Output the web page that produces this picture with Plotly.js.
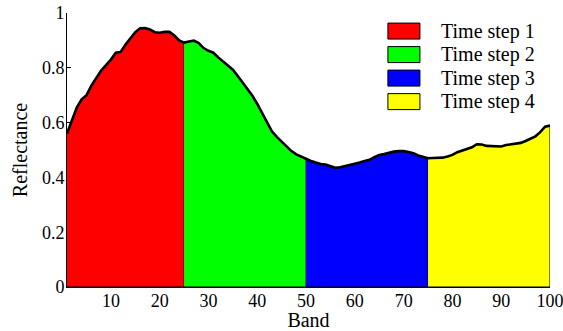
<!DOCTYPE html>
<html>
<head>
<meta charset="utf-8">
<script src="https://cdn.plot.ly/plotly-3.0.1.min.js"></script>
<style>html,body{margin:0;padding:0;background:#fff;}#chart{width:563px;height:331px;}</style>
</head>
<body>
<div id="chart"></div>
<script>
// ---- data ----
var bands = [];
for (var b = 1; b <= 100; b++) bands.push(b);
var reflectance = [
  0.560, 0.610, 0.655, 0.685, 0.700, 0.735, 0.765, 0.790, 0.810, 0.830,
  0.855, 0.858, 0.885, 0.907, 0.930, 0.944, 0.945, 0.940, 0.930, 0.928,
  0.931, 0.931, 0.918, 0.900, 0.892, 0.896, 0.899, 0.890, 0.872, 0.862,
  0.855, 0.838, 0.823, 0.808, 0.793, 0.770, 0.746, 0.722, 0.698, 0.668,
  0.635, 0.600, 0.568, 0.548, 0.530, 0.512, 0.496, 0.484, 0.475, 0.468,
  0.460, 0.454, 0.449, 0.447, 0.440, 0.435, 0.437, 0.441, 0.445, 0.449,
  0.454, 0.460, 0.464, 0.474, 0.482, 0.485, 0.490, 0.494, 0.496, 0.496,
  0.493, 0.488, 0.480, 0.474, 0.470, 0.471, 0.472, 0.472, 0.476, 0.482,
  0.492, 0.498, 0.503, 0.510, 0.521, 0.520, 0.515, 0.514, 0.512, 0.513,
  0.518, 0.521, 0.523, 0.526, 0.533, 0.541, 0.550, 0.565, 0.585, 0.589
];
var stepNames = ["Time step 1", "Time step 2", "Time step 3", "Time step 4"];
var stepColors = ["#ff0000", "#00ff00", "#0000ff", "#ffff00"];
var stepBounds = [1, 25, 50, 75, 100];
var xTicks = [10, 20, 30, 40, 50, 60, 70, 80, 90, 100];
var yTicks = [0, 0.2, 0.4, 0.6, 0.8, 1];
var yTickText = ["0", "0.2", "0.4", "0.6", "0.8", "1"];

// ---- traces ----
var traces = [];
for (var s = 0; s < stepNames.length; s++) {
  var xs = [], ys = [];
  for (var i = 0; i < bands.length; i++) {
    if (bands[i] >= stepBounds[s] && bands[i] <= stepBounds[s + 1]) {
      xs.push(bands[i]); ys.push(reflectance[i]);
    }
  }
  var px = xs.concat([xs[xs.length - 1], xs[0]]);
  var py = ys.concat([0, 0]);
  traces.push({
    type: "scatter", mode: "lines", x: px, y: py,
    fill: "toself", fillcolor: stepColors[s],
    line: {color: "#000", width: 1},
    name: stepNames[s], showlegend: false, hoverinfo: "skip"
  });
}
traces.push({
  type: "scatter", mode: "lines", x: bands, y: reflectance,
  line: {color: "#000", width: 2.6},
  showlegend: false, hoverinfo: "skip"
});

// ---- custom legend (paper coords) ----
var shapes = [], annotations = [];
var lgX0 = 0.6644, lgX1 = 0.7307, lgTx = 0.770;
var lgY0 = 0.934, lgDy = 0.0858, lgH = 0.0292;
for (var k = 0; k < stepNames.length; k++) {
  var cy = lgY0 - k * lgDy;
  shapes.push({
    type: "rect", xref: "paper", yref: "paper",
    x0: lgX0, x1: lgX1, y0: cy - lgH, y1: cy + lgH,
    fillcolor: stepColors[k], line: {color: "#000", width: 1}
  });
  annotations.push({
    xref: "paper", yref: "paper", x: lgTx, y: cy,
    xanchor: "left", yanchor: "middle", showarrow: false,
    text: stepNames[k],
    font: {family: "Liberation Serif", size: 20, color: "#000"}
  });
}

var layout = {
  width: 563, height: 331,
  margin: {l: 67, r: 13, t: 13, b: 44, pad: 0},
  paper_bgcolor: "#fff", plot_bgcolor: "#fff",
  font: {family: "Liberation Serif", size: 18, color: "#000"},
  xaxis: {
    range: [1, 100], tickvals: xTicks, ticks: "",
    ticklabeloverflow: "allow", ticklabelstandoff: -3,
    showgrid: false, zeroline: false,
    showline: true, linecolor: "#000", linewidth: 1,
    title: {text: "Band", font: {size: 20}, standoff: 0},
    automargin: false, layer: "below traces"
  },
  yaxis: {
    range: [0, 1], tickvals: yTicks, ticktext: yTickText,
    ticks: "inside", ticklen: 4, tickcolor: "#000",
    ticklabelstandoff: -2,
    showgrid: false, zeroline: false,
    showline: true, linecolor: "#000", linewidth: 1,
    title: {text: "Reflectance", font: {size: 20}, standoff: 8},
    automargin: false, layer: "below traces"
  },
  shapes: shapes,
  annotations: annotations,
  showlegend: false
};

Plotly.newPlot("chart", traces, layout, {staticPlot: true, displayModeBar: false});
</script>
</body>
</html>
